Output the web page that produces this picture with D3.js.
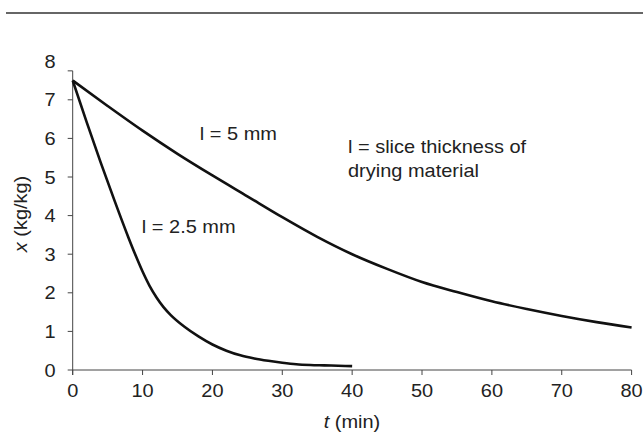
<!DOCTYPE html>
<html>
<head>
<meta charset="utf-8">
<script src="https://cdn.jsdelivr.net/npm/d3@7"></script>
<style>
  html, body { margin: 0; padding: 0; background: #fff; }
  svg text { font-family: "Liberation Sans", Arial, Helvetica, sans-serif; fill: #222; }
</style>
</head>
<body>
<svg id="chart" width="643" height="435"></svg>
<script>
// ---- data ----
const xTicks = [0, 10, 20, 30, 40, 50, 60, 70, 80];
const yTicks = [0, 1, 2, 3, 4, 5, 6, 7, 8];

const t5 = [0, 5, 10, 15, 20, 25, 30, 35, 40, 45, 50, 55, 60, 65, 70, 75, 80];
const x5 = [7.5, 6.84, 6.2, 5.6, 5.04, 4.5, 3.96, 3.45, 3.0, 2.62, 2.28, 2.02, 1.78, 1.58, 1.4, 1.24, 1.1];

const t25 = [0, 2, 4, 6, 8, 9, 10, 11, 12, 13, 14, 16, 18, 20, 22, 24, 26, 28, 30, 32, 34, 36, 38, 40];
const x25 = [7.5, 6.42, 5.38, 4.38, 3.42, 2.97, 2.55, 2.18, 1.88, 1.63, 1.43, 1.12, 0.87, 0.66, 0.5, 0.38, 0.3, 0.24, 0.19, 0.15, 0.13, 0.12, 0.11, 0.1];

const labels = [
  { text: "l = 5 mm", t: 18.2, v: 5.95 },
  { text: "l = 2.5 mm", t: 9.9, v: 3.56 }
];
const noteLines = ["l = slice thickness of", "drying material"];

// ---- layout ----
const svg = d3.select("#chart");
const x = d3.scaleLinear().domain([0, 80]).range([72.7, 631.6]);
const y = d3.scaleLinear().domain([0, 8]).range([370, 61.2]);
const axisTop = 7.75;
const fs = 18;
const sx = 1.11; // horizontal stretch of the reference lettering

function place(sel, px, py) {
  return sel.attr("transform", (d, i) => {
    const X = typeof px === "function" ? px(d, i) : px;
    const Y = typeof py === "function" ? py(d, i) : py;
    return `translate(${X},${Y}) scale(${sx},1)`;
  });
}

// top rule
svg.append("line").attr("x1", 6).attr("x2", 643).attr("y1", 13).attr("y2", 13)
  .attr("stroke", "#333").attr("stroke-width", 1.6);

// y axis
const gy = svg.append("g");
gy.append("line").attr("x1", x(0)).attr("x2", x(0)).attr("y1", y(0) + 5).attr("y2", y(axisTop))
  .attr("stroke", "#444").attr("stroke-width", 1);
const yTickVals = yTicks.filter(v => v <= axisTop).concat([axisTop]);
gy.selectAll("line.tk").data(yTickVals).enter().append("line").attr("class", "tk")
  .attr("x1", x(0) - 5).attr("x2", x(0)).attr("y1", d => y(d)).attr("y2", d => y(d))
  .attr("stroke", "#444").attr("stroke-width", 1);
place(gy.selectAll("text").data(yTicks).enter().append("text"), x(0) - 17, d => y(d) + 6.5)
  .attr("text-anchor", "end").attr("font-size", fs).text(d => d);

// x axis
const gx = svg.append("g");
gx.append("line").attr("x1", x(0)).attr("x2", x(80)).attr("y1", y(0)).attr("y2", y(0))
  .attr("stroke", "#444").attr("stroke-width", 1);
gx.selectAll("line.tk").data(xTicks).enter().append("line").attr("class", "tk")
  .attr("x1", d => x(d)).attr("x2", d => x(d)).attr("y1", y(0)).attr("y2", y(0) + 5)
  .attr("stroke", "#444").attr("stroke-width", 1);
place(gx.selectAll("text").data(xTicks).enter().append("text"), d => x(d), 397)
  .attr("text-anchor", "middle").attr("font-size", fs).text(d => d);

// axis titles
const xt = svg.append("text").attr("transform", `translate(352,428) scale(${sx},1)`)
  .attr("text-anchor", "middle").attr("font-size", fs);
xt.append("tspan").attr("font-style", "italic").text("t");
xt.append("tspan").text(" (min)");

const yt = svg.append("text").attr("transform", `translate(27,214) rotate(-90) scale(${sx},1)`)
  .attr("text-anchor", "middle").attr("font-size", fs);
yt.append("tspan").attr("font-style", "italic").text("x");
yt.append("tspan").text(" (kg/kg)");

// curves
const line = d3.line().x(d => x(d[0])).y(d => y(d[1])).curve(d3.curveMonotoneX);
svg.append("path").datum(t5.map((t, i) => [t, x5[i]]))
  .attr("d", line).attr("fill", "none").attr("stroke", "#111").attr("stroke-width", 2.6);
svg.append("path").datum(t25.map((t, i) => [t, x25[i]]))
  .attr("d", line).attr("fill", "none").attr("stroke", "#111").attr("stroke-width", 2.6);

// labels
place(svg.selectAll("text.lab").data(labels).enter().append("text").attr("class", "lab"),
  d => x(d.t), d => y(d.v))
  .attr("font-size", fs).text(d => d.text);

place(svg.selectAll("text.note").data(noteLines).enter().append("text").attr("class", "note"),
  348, (d, i) => 153 + i * 24)
  .attr("font-size", fs).text(d => d);
</script>
</body>
</html>
